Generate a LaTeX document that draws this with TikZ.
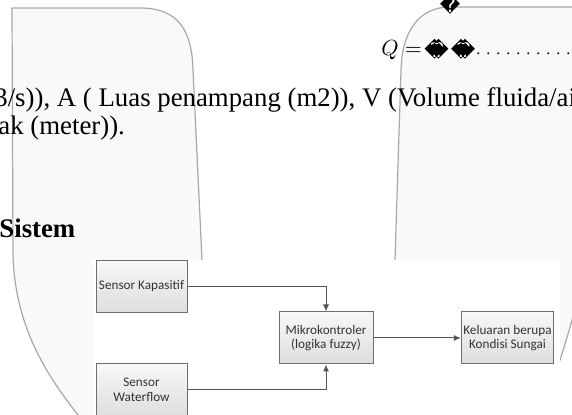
\documentclass[tikz,border=0pt]{standalone}
\usepackage{fontspec}
\setmainfont{Liberation Serif}
\newfontfamily\boxfont{Carlito}
\newfontfamily\symfont{DejaVu Sans}
\usetikzlibrary{arrows.meta}
\definecolor{pagefill}{HTML}{F9F9F9}
\definecolor{pageline}{HTML}{A8A8A8}
\definecolor{boxline}{HTML}{6E6E6E}
\definecolor{arrowline}{HTML}{555555}
\newcommand{\dobel}{\rlap{\char"FFFD}\kern2pt\char"FFFD}

\begin{document}
\begin{tikzpicture}[x=0.5pt,y=-0.5pt,
    page/.style={fill=pagefill,draw=pageline,line width=0.6pt},
    blok/.style={draw=boxline,top color=black!3,bottom color=black!13,line width=0.5pt,
        minimum width=45.5pt,minimum height=26pt,inner sep=1pt,align=center,
        text=black!80,font=\boxfont\fontsize{6.6}{7.4}\selectfont},
    alir/.style={-{Latex[length=3.5pt,width=3pt]},draw=arrowline,line width=0.5pt},
    teks/.style={anchor=base west,inner sep=0pt,font=\fontsize{13.4}{15}\selectfont}]
    \useasboundingbox (0,0) rectangle (572,415);
    \clip (0,0) rectangle (572,415);

    \draw[page] (82,420) .. controls (50,380) and (15,330) .. (13,255) -- (12,8) -- (140,8)
        .. controls (178,8) and (192,30) .. (193,70) -- (202,260) -- (202,420) -- cycle;
    \draw[page] (395,420) -- (395,260) -- (401,70) .. controls (402,30) and (420,7) .. (450,7)
        -- (585,7) -- (585,230) .. controls (584,290) and (572,325) .. (540,420) -- cycle;
    \fill[white] (93,260) rectangle (560,420);

    \node[teks] (baris1) at (-6,107) {3/s)), A ( Luas penampang (m2)), V (Volume fluida/air};
    \node[teks] (baris2) at (-2,135) {ak (meter)).};
    \node[teks,font=\bfseries\fontsize{13.4}{15}\selectfont] (judul) at (-1,238) {Sistem};

    \node[anchor=base west,inner sep=0pt,font=\fontsize{11}{12}\selectfont] (rumus) at (381,56) {$Q=$};
    \node[anchor=base west,inner sep=0pt,font=\symfont\fontsize{10}{12}\selectfont] (simbol) at (424,58) {\dobel\kern1pt\dobel};
    \node[inner sep=0pt,font=\symfont\fontsize{10}{12}\selectfont] (simbolatas) at (450,4) {\char"FFFD};
    \node[anchor=base west,inner sep=0pt,font=\fontsize{8}{9}\selectfont] (titik) at (473,55)
        {\hbox to 55pt{\leaders\hbox to 5pt{\hss.\hss}\hfill}};

    \node[blok] (kap) at (141.5,286.5) {Sensor Kapasitif};
    \node[blok] (wat) at (141.5,390) {Sensor\\Waterflow};
    \node[blok,minimum width=47pt] (mik) at (326,338) {Mikrokontroler\\(logika fuzzy)};
    \node[blok] (kel) at (507.5,338) {Keluaran berupa\\Kondisi Sungai};

    \draw[alir] (kap) -| (mik);
    \draw[alir] (wat) -| (mik);
    \draw[alir] (mik) -- (kel);
\end{tikzpicture}
\end{document}
